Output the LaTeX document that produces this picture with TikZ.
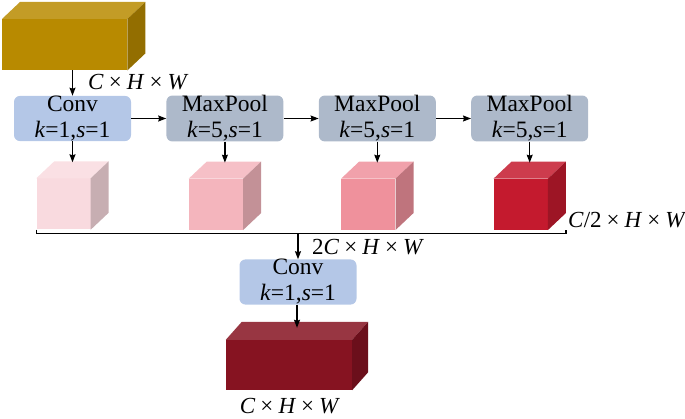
\documentclass[tikz,border=0pt]{standalone}
\usepackage{fontspec}
\setmainfont{Liberation Serif}
\usetikzlibrary{arrows.meta, positioning, calc}
\definecolor{convblue}{RGB}{180,199,231}
\definecolor{poolgray}{RGB}{173,185,202}
\definecolor{gold}{RGB}{184,138,0}
\definecolor{cubeA}{RGB}{249,218,223}
\definecolor{cubeB}{RGB}{244,181,189}
\definecolor{cubeC}{RGB}{239,145,156}
\definecolor{cubeD}{RGB}{196,26,46}
\definecolor{wine}{RGB}{134,19,33}
\newcommand{\by}{\hspace{.22em}×\hspace{.22em}}
\tikzset{
  opbox/.style={rectangle, rounded corners=6pt, minimum width=117pt, minimum height=45pt, inner sep=0pt, align=center, font=\fontsize{23.5}{26}\selectfont},
  cubefront/.style={rectangle, inner sep=0pt, draw=none},
  flow/.style={-{Stealth[length=8pt,width=6pt,inset=1pt]}, line width=1.2pt},
  dimlabel/.style={inner sep=0pt, font=\fontsize{23}{26}\selectfont}
}

\begin{document}
\begin{tikzpicture}[x=1pt, y=-1pt]
\useasboundingbox (0,0) rectangle (685,419);
\node[cubefront, fill=gold, minimum width=125pt, minimum height=51pt, anchor=north west] (input) at (2,19) {};
\fill[gold!85!white] (input.north west) -- ++(18,-17) -- ($(input.north east)+(18,-17)$) -- (input.north east) -- cycle;
\fill[gold!80!black] (input.north east) -- ++(18,-17) -- ($(input.south east)+(18,-17)$) -- (input.south east) -- cycle;

\node[opbox, fill=convblue] (conv) at (72.5,118.5) {Conv\\\textit{k}=1,\textit{s}=1};
\node[opbox, fill=poolgray, right=35pt of conv] (mp1) {MaxPool\\\textit{k}=5,\textit{s}=1};
\node[opbox, fill=poolgray, right=35pt of mp1] (mp2) {MaxPool\\\textit{k}=5,\textit{s}=1};
\node[opbox, fill=poolgray, right=35pt of mp2] (mp3) {MaxPool\\\textit{k}=5,\textit{s}=1};

\draw[flow] (conv.north |- input.south) -- (conv.north);
\node[dimlabel, anchor=base west] (inlabel) at (88,90) {\textit{C}\by\textit{H}\by\textit{W}};
\draw[flow] (conv) -- (mp1);
\draw[flow] (mp1) -- (mp2);
\draw[flow] (mp2) -- (mp3);

\foreach \op/\cb/\col in {conv/c1/cubeA, mp1/c2/cubeB, mp2/c3/cubeC, mp3/c4/cubeD} {
    \node[cubefront, fill=\col, minimum width=54pt, minimum height=51pt, below=37pt of \op, xshift=-9pt] (\cb) {};
    \fill[\col!85!white] (\cb.north west) -- ++(18,-17) -- ($(\cb.north east)+(18,-17)$) -- (\cb.north east) -- cycle;
    \fill[\col!80!black] (\cb.north east) -- ++(18,-17) -- ($(\cb.south east)+(18,-17)$) -- (\cb.south east) -- cycle;
    \coordinate (\cb t) at ($(\cb.north)+(9,-16)$);
    \draw[flow] (\op.south) -- (\cb t);
}

\coordinate (bl) at (c1.south west);
\coordinate (br) at ($(c4.south east)+(18,0)$);
\coordinate (bus) at ($(bl)+(0,4)$);
\draw[line width=1.2pt] (bl) -- (bus) -| (br);
\node[dimlabel, anchor=base west] (halflabel) at (568,228) {\textit{C}/2\by\textit{H}\by\textit{W}};

\node[opbox, fill=convblue] (conv2) at (298,282) {Conv\\\textit{k}=1,\textit{s}=1};
\draw[flow] (conv2.north |- bus) -- (conv2.north);
\node[dimlabel, anchor=base west] (catlabel) at (312,255) {2\textit{C}\by\textit{H}\by\textit{W}};

\node[cubefront, fill=wine, minimum width=126pt, minimum height=50pt] (output) at (289,365) {};
\fill[wine!85!white] (output.north west) -- ++(16,-18) -- ($(output.north east)+(16,-18)$) -- (output.north east) -- cycle;
\fill[wine!80!black] (output.north east) -- ++(16,-18) -- ($(output.south east)+(16,-18)$) -- (output.south east) -- cycle;
\coordinate (outt) at ($(output.north)+(8,-12)$);
\draw[flow] (conv2.south -| outt) -- (outt);
\node[dimlabel, anchor=base] (outlabel) at (290,413) {\textit{C}\by\textit{H}\by\textit{W}};
\end{tikzpicture}
\end{document}
